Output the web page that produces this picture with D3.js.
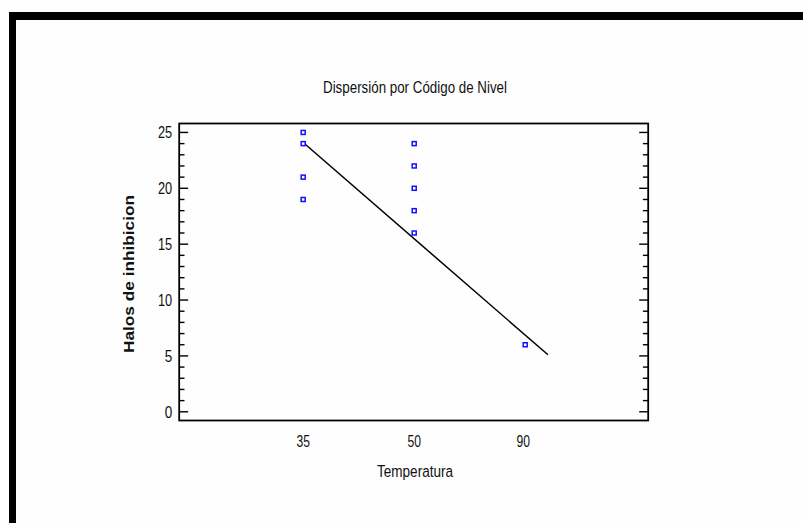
<!DOCTYPE html>
<html><head><meta charset="utf-8">
<script src="https://cdn.jsdelivr.net/npm/d3@7"></script>
<style>html,body{margin:0;padding:0;background:#fefefe;}svg{display:block;}</style>
</head><body>
<script>
const categories = ["35", "50", "90"];
const pointCategory = [0, 0, 0, 0, 1, 1, 1, 1, 1, 2];
const pointValue = [25, 24, 21, 19, 24, 22, 20, 18, 16, 6];
const lineCategory = [0, 2.205];
const lineValue = [24.1, 5.1];
const yMajorTicks = [0, 5, 10, 15, 20, 25];
const yMinorTicks = d3.range(0, 26);

const W = 803, H = 523;
const svg = d3.select("body").append("svg").attr("width", W).attr("height", H);
svg.append("rect").attr("width", W).attr("height", H).attr("fill", "#fefefe");
// outer black frame (top + left)
svg.append("rect").attr("x", 9).attr("y", 12).attr("width", W - 9).attr("height", 8).attr("fill", "#000");
svg.append("rect").attr("x", 9).attr("y", 12).attr("width", 7).attr("height", H - 12).attr("fill", "#000");

const L = 179.2, R = 648.2, T = 123.5, B = 420.5;
const x = d3.scaleLinear().domain([-1.117, 3.108]).range([L, R]);
const y = d3.scaleLinear().domain([-0.78, 25.8]).range([B, T]);
const font = "'Liberation Sans', Arial, sans-serif";

// minor + major ticks left (inward) and right (inward)
const gTicks = svg.append("g").attr("stroke", "#000").attr("stroke-width", 1.4);
yMinorTicks.forEach(v => {
  const len = yMajorTicks.includes(v) ? 9 : 5.3;
  gTicks.append("line").attr("x1", L).attr("x2", L + len).attr("y1", y(v)).attr("y2", y(v));
  gTicks.append("line").attr("x1", R).attr("x2", R - len).attr("y1", y(v)).attr("y2", y(v));
});

// frame
svg.append("rect").attr("x", L).attr("y", T).attr("width", R - L).attr("height", B - T)
  .attr("fill", "none").attr("stroke", "#000").attr("stroke-width", 1.8);

// y tick labels
svg.append("g").selectAll("text").data(yMajorTicks).join("text")
  .attr("x", L - 7).attr("y", d => y(d) + 6).attr("text-anchor", "end")
  .attr("font-family", font).attr("font-size", 16.5).attr("fill", "#111")
  .attr("textLength", d => String(d).length === 1 ? 7.5 : 14.2).attr("lengthAdjust", "spacingAndGlyphs")
  .text(d => d);

// x tick labels
svg.append("g").selectAll("text").data(categories).join("text")
  .attr("x", (d, i) => x(i) - (i === 2 ? 2 : 0)).attr("y", 446.8).attr("text-anchor", "middle")
  .attr("font-family", font).attr("font-size", 16.5).attr("fill", "#111")
  .attr("textLength", 13.5).attr("lengthAdjust", "spacingAndGlyphs")
  .text(d => d);

// regression line
const line = d3.line().x(d => x(d[0])).y(d => y(d[1]));
svg.append("path").datum(lineCategory.map((c, i) => [c, lineValue[i]]))
  .attr("d", line).attr("fill", "none").attr("stroke", "#000").attr("stroke-width", 1.5);

// points
svg.append("g").selectAll("rect").data(pointValue).join("rect")
  .attr("x", (d, i) => x(pointCategory[i]) - 2).attr("y", d => y(d) - 2)
  .attr("width", 4).attr("height", 4)
  .attr("fill", "#fff").attr("stroke", "#1010ff").attr("stroke-width", 1.5);

// title
svg.append("text").attr("x", 415).attr("y", 92.7).attr("text-anchor", "middle")
  .attr("font-family", font).attr("font-size", 16.8).attr("fill", "#111")
  .attr("textLength", 184).attr("lengthAdjust", "spacingAndGlyphs")
  .text("Dispersión por Código de Nivel");

// x axis title
svg.append("text").attr("x", 415).attr("y", 476.7).attr("text-anchor", "middle")
  .attr("font-family", font).attr("font-size", 16.8).attr("fill", "#111")
  .attr("textLength", 76).attr("lengthAdjust", "spacingAndGlyphs")
  .text("Temperatura");

// y axis title
svg.append("text").attr("transform", "translate(134,274) rotate(-90)").attr("text-anchor", "middle")
  .attr("font-family", font).attr("font-size", 15.5).attr("font-weight", "bold").attr("fill", "#111")
  .attr("textLength", 158).attr("lengthAdjust", "spacingAndGlyphs")
  .text("Halos de inhibicion");
</script>
</body></html>
